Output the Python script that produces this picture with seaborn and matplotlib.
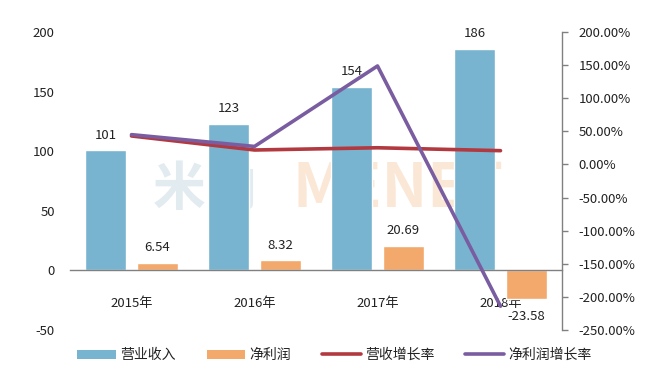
import numpy as np
import pandas as pd
import matplotlib
matplotlib.use("Agg")
import matplotlib.pyplot as plt
import seaborn as sns
from matplotlib.patches import Patch
from matplotlib.lines import Line2D
from matplotlib.ticker import FuncFormatter, MultipleLocator

years = ["2015年", "2016年", "2017年", "2018年"]
revenue = [101, 123, 154, 186]
net_profit = [6.54, 8.32, 20.69, -23.58]
revenue_growth = [43.0, 21.8, 25.2, 20.8]
profit_growth = [45.0, 27.2, 148.7, -214.0]
rev_labels = ["101", "123", "154", "186"]
np_labels = ["6.54", "8.32", "20.69", "-23.58"]
bar_names = ["营业收入", "净利润"]
line_names = ["营收增长率", "净利润增长率"]

c_blue = "#78B4CF"
c_orange = "#F3A96C"
c_red = "#B2393F"
c_purple = "#7A5DA0"

sns.set_theme(style="white")
plt.rcParams["font.family"] = ["Noto Sans CJK SC", "DejaVu Sans"]
plt.rcParams["axes.unicode_minus"] = False

fig = plt.figure(figsize=(6.62, 3.86), dpi=100)
ax = fig.add_axes([70/662, 1-330/386, (562-70)/662, (330-32)/386])

df = pd.DataFrame({
    "year": years * 2,
    "value": revenue + net_profit,
    "series": [bar_names[0]] * 4 + [bar_names[1]] * 4,
})
sns.barplot(data=df, x="year", y="value", hue="series", order=years,
            hue_order=bar_names, palette=[c_blue, c_orange], width=0.84,
            gap=0.2, ax=ax, legend=False, saturation=1, errorbar=None)

ax.set_ylim(-50, 200)
ax.set_xlim(-0.5, 3.5)
ax.yaxis.set_major_locator(MultipleLocator(50))
ax.yaxis.set_major_formatter(FuncFormatter(lambda v, p: f"{v:.0f}"))
ax.set_xlabel("")
ax.set_ylabel("")
for s in ["top", "left", "right"]:
    ax.spines[s].set_visible(False)
ax.spines["bottom"].set_position(("data", 0))
ax.spines["bottom"].set_color("#808080")
ax.spines["bottom"].set_linewidth(1.0)
ax.tick_params(axis="x", length=0, pad=19, labelsize=9.5, colors="#222222")
ax.tick_params(axis="y", length=0, pad=11, labelsize=9.5, colors="#222222")

# faint watermark
ax.text(0.6, 68, "米内", fontsize=38, color="#dde8ee", ha="center",
        va="center", fontweight="bold", zorder=0.5, alpha=0.85)
ax.text(2.17, 68, "MENET", fontsize=44, color="#fbe3cf", ha="center",
        va="center", fontweight="bold", zorder=0.5, alpha=0.85)

# data labels
for i in range(4):
    ax.annotate(rev_labels[i], (i - 0.21, revenue[i]), xytext=(0, 6),
                textcoords="offset points", ha="center", va="bottom",
                fontsize=9.5, color="#222222")
    v = net_profit[i]
    if v >= 0:
        ax.annotate(np_labels[i], (i + 0.21, v), xytext=(0, 6),
                    textcoords="offset points", ha="center", va="bottom",
                    fontsize=9.5, color="#222222")
    else:
        ax.annotate(np_labels[i], (i + 0.21, v), xytext=(0, -8),
                    textcoords="offset points", ha="center", va="top",
                    fontsize=9.5, color="#222222")

ax2 = ax.twinx()
xs = np.arange(4)
sns.lineplot(x=xs, y=revenue_growth, ax=ax2, color=c_red, linewidth=2.6,
             legend=False)
sns.lineplot(x=xs, y=profit_growth, ax=ax2, color=c_purple, linewidth=2.6,
             legend=False)
ax2.set_ylim(-250, 200)
ax2.set_xlim(-0.5, 3.5)
ax2.yaxis.set_major_locator(MultipleLocator(50))
ax2.yaxis.set_major_formatter(FuncFormatter(lambda v, p: f"{v:.2f}%"))
for s in ["top", "left", "bottom"]:
    ax2.spines[s].set_visible(False)
ax2.spines["right"].set_color("#808080")
ax2.spines["right"].set_linewidth(1.0)
ax2.tick_params(axis="y", length=4, width=1, color="#808080", pad=8,
                labelsize=9.5, colors="#222222")
ax2.tick_params(axis="y", color="#808080")
ax2.set_ylabel("")

handles = [
    Patch(facecolor=c_blue, edgecolor="none", label=bar_names[0]),
    Patch(facecolor=c_orange, edgecolor="none", label=bar_names[1]),
    Line2D([], [], color=c_red, linewidth=2.6, label=line_names[0]),
    Line2D([], [], color=c_purple, linewidth=2.6, label=line_names[1]),
]
fig.legend(handles=handles, loc="center", bbox_to_anchor=(0.505, 1-355/386),
           ncol=4, frameon=False, fontsize=10, handlelength=2.8,
           handleheight=0.6, columnspacing=2.2, handletextpad=0.3,
           labelcolor="#222222")

fig.savefig("out.png", dpi=100, facecolor="white")
